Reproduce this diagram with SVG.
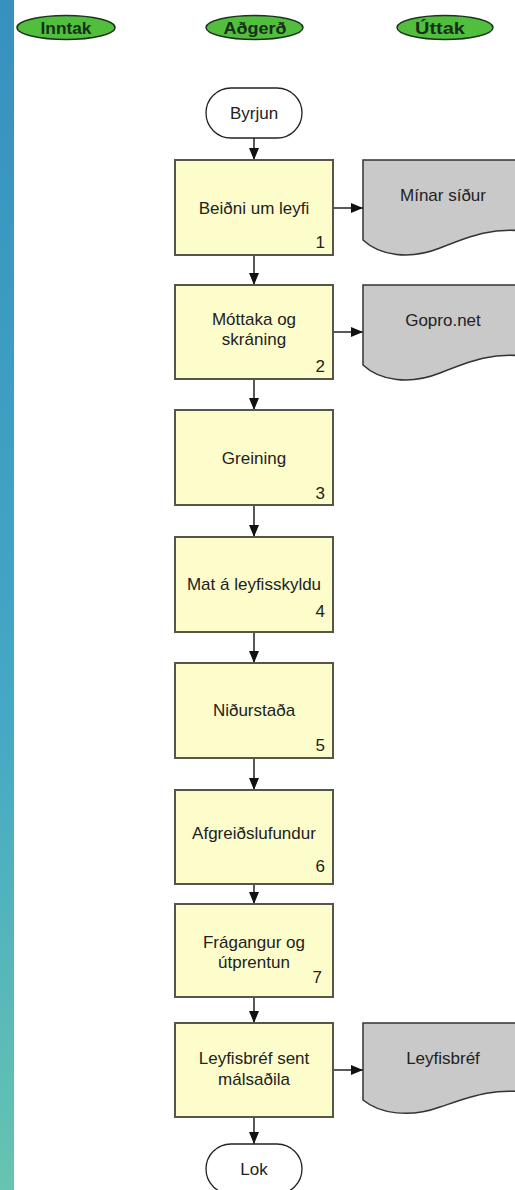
<svg xmlns="http://www.w3.org/2000/svg" width="515" height="1190" viewBox="0 0 515 1190">
<defs>
<linearGradient id="bar" x1="0" y1="0" x2="0" y2="1">
<stop offset="0" stop-color="#3791bd"/>
<stop offset="0.6" stop-color="#44a8c6"/>
<stop offset="1" stop-color="#66c4b0"/>
</linearGradient>
<marker id="ah" markerWidth="12" markerHeight="10" viewBox="0 0 12 10" refX="12" refY="5" markerUnits="userSpaceOnUse" orient="auto">
<path d="M0,0 L12,5 L0,10 Z" fill="#111"/>
</marker>
<style>
.lane{fill:#52be3e;stroke:#1b351b;stroke-width:1.5}
.lt{font-family:"Liberation Sans",Arial,sans-serif;font-weight:bold;font-size:17px;fill:#16301a;text-anchor:middle}
.term{fill:#fff;stroke:#222;stroke-width:1.3}
.box{fill:#fdfdcc;stroke:#55554a;stroke-width:2}
.doc{fill:#c9c9c9;stroke:#333;stroke-width:1.5}
.t{font-family:"Liberation Sans",Arial,sans-serif;font-size:17px;fill:#222;text-anchor:middle}
.n{font-family:"Liberation Sans",Arial,sans-serif;font-size:17px;fill:#222;text-anchor:end}
.c{stroke:#222;stroke-width:1.5;fill:none;marker-end:url(#ah)}
</style>
</defs>
<rect x="0" y="0" width="515" height="1190" fill="#fff"/>
<rect x="0" y="0" width="14" height="1190" fill="url(#bar)"/>

<g id="lane-inntak"><ellipse class="lane" cx="66" cy="27.5" rx="49" ry="12"/><text class="lt" x="66" y="33.5" textLength="51" lengthAdjust="spacingAndGlyphs">Inntak</text></g>
<g id="lane-adgerd"><ellipse class="lane" cx="254.5" cy="27.5" rx="48.5" ry="12"/><text class="lt" x="255" y="33.5" textLength="63" lengthAdjust="spacingAndGlyphs">Aðgerð</text></g>
<g id="lane-uttak"><ellipse class="lane" cx="445" cy="27.5" rx="48" ry="12"/><text class="lt" x="440" y="33.5" textLength="50" lengthAdjust="spacingAndGlyphs">Úttak</text></g>

<g id="connectors">
<line class="c" x1="254" y1="138" x2="254" y2="160"/>
<line class="c" x1="254" y1="255" x2="254" y2="285"/>
<line class="c" x1="254" y1="379" x2="254" y2="410"/>
<line class="c" x1="254" y1="505" x2="254" y2="537"/>
<line class="c" x1="254" y1="632" x2="254" y2="663"/>
<line class="c" x1="254" y1="758" x2="254" y2="790"/>
<line class="c" x1="254" y1="884" x2="254" y2="904"/>
<line class="c" x1="254" y1="997" x2="254" y2="1023"/>
<line class="c" x1="254" y1="1117" x2="254" y2="1144"/>
<line class="c" x1="333" y1="208" x2="363" y2="208"/>
<line class="c" x1="333" y1="332" x2="363" y2="332"/>
<line class="c" x1="333" y1="1070" x2="363" y2="1070"/>
</g>

<g id="start"><rect class="term" x="206" y="88" width="96" height="50" rx="25"/><text class="t" x="254" y="119">Byrjun</text></g>

<g id="step1"><rect class="box" x="175" y="160" width="158" height="95"/><text class="t" x="254" y="214">Beiðni um leyfi</text><text class="n" x="325" y="248">1</text></g>
<g id="doc1"><path class="doc" d="M363,160 L530,160 L530,232 C495,226 470,236 440,248 C410,260 380,256 363,240 Z"/><text class="t" x="443" y="201">Mínar síður</text></g>

<g id="step2"><rect class="box" x="175" y="285" width="158" height="94"/><text class="t" x="254" y="325">Móttaka og</text><text class="t" x="254" y="345">skráning</text><text class="n" x="325" y="372">2</text></g>
<g id="doc2"><path class="doc" d="M363,285 L530,285 L530,357 C495,351 470,361 440,373 C410,385 380,381 363,365 Z"/><text class="t" x="443" y="326">Gopro.net</text></g>

<g id="step3"><rect class="box" x="175" y="410" width="158" height="95"/><text class="t" x="254" y="464">Greining</text><text class="n" x="325" y="499">3</text></g>

<g id="step4"><rect class="box" x="175" y="537" width="158" height="95"/><text class="t" x="254" y="590">Mat á leyfisskyldu</text><text class="n" x="325" y="617">4</text></g>

<g id="step5"><rect class="box" x="175" y="663" width="158" height="95"/><text class="t" x="254" y="716">Niðurstaða</text><text class="n" x="325" y="751">5</text></g>

<g id="step6"><rect class="box" x="175" y="790" width="158" height="94"/><text class="t" x="254" y="839">Afgreiðslufundur</text><text class="n" x="325" y="872">6</text></g>

<g id="step7"><rect class="box" x="175" y="904" width="158" height="93"/><text class="t" x="254" y="948">Frágangur og</text><text class="t" x="254" y="968">útprentun</text><text class="n" x="322" y="983">7</text></g>

<g id="step8"><rect class="box" x="175" y="1023" width="158" height="94"/><text class="t" x="254" y="1064">Leyfisbréf sent</text><text class="t" x="254" y="1085">málsaðila</text></g>
<g id="doc3"><path class="doc" d="M363,1023 L530,1023 L530,1093 C495,1087 470,1097 440,1107 C410,1118 380,1114 363,1100 Z"/><text class="t" x="443" y="1064">Leyfisbréf</text></g>

<g id="end"><rect class="term" x="206" y="1144" width="96" height="50" rx="25"/><text class="t" x="254" y="1175">Lok</text></g>
</svg>
